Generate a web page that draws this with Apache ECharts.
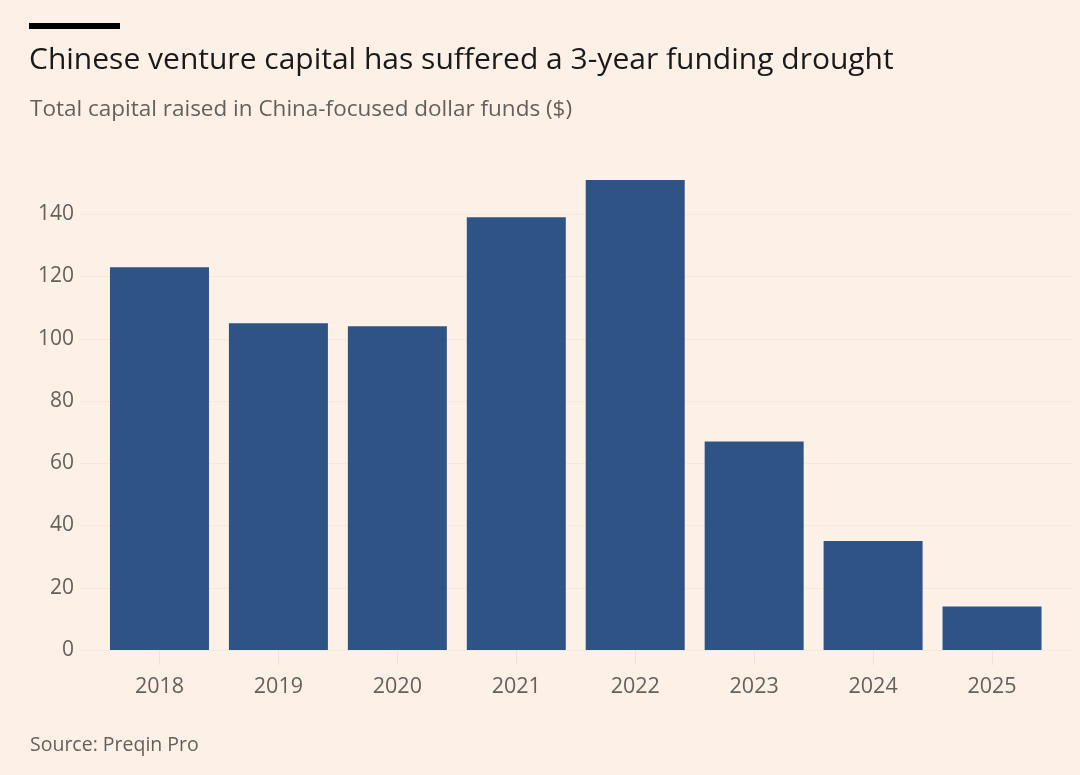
<!DOCTYPE html>
<html>
<head>
<meta charset="utf-8">
<script src="https://cdn.jsdelivr.net/npm/echarts@6/dist/echarts.min.js"></script>
<style>
	html, body { margin: 0; padding: 0; background: #fdf1e7; }
	#chart { width: 1080px; height: 775px; }
</style>
</head>
<body>
<div id="chart"></div>
<script>
	// data
	var years = ['2018', '2019', '2020', '2021', '2022', '2023', '2024', '2025'];
	var capital = [123, 105, 104, 139, 151, 67, 35, 14];
	var yTicks = [0, 20, 40, 60, 80, 100, 120, 140];

	var font = 'Open Sans';
	var grey = '#66605c';

	var myChart = echarts.init(document.getElementById('chart'));

	var option = {
		backgroundColor: '#fdf1e7',
		graphic: [{
			type: 'rect',
			left: 29, top: 23,
			shape: { width: 91, height: 6 },
			style: { fill: '#000000' }
		}],
		title: [{
			text: 'Chinese venture capital has suffered a 3-year funding drought',
			left: 29, top: 45, padding: 0,
			textStyle: { fontFamily: font, fontSize: 30, fontWeight: 'normal', color: '#1a1a1a' }
		}, {
			text: 'Total capital raised in China-focused dollar funds ($)',
			left: 30, top: 98, padding: 0,
			textStyle: { fontFamily: font, fontSize: 22.5, fontWeight: 'normal', color: grey }
		}, {
			text: 'Source: Preqin Pro',
			left: 30, top: 735, padding: 0,
			textStyle: { fontFamily: font, fontSize: 19.5, fontWeight: 'normal', color: grey }
		}],
		grid: [
			// grid 0: gridlines and y labels, a bit wider than the bars
			{ left: 80, right: 8, top: 152, bottom: 125 },
			// grid 1: the bars
			{ left: 100, right: 28.5, top: 152, bottom: 125 }
		],
		xAxis: [{
			gridIndex: 0, type: 'value', min: 0, max: 1, show: false
		}, {
			gridIndex: 1,
			type: 'category',
			data: years,
			axisLine: { show: false },
			axisTick: { show: true, alignWithLabel: true, length: 15, lineStyle: { color: '#efe1d5' } },
			axisLabel: { fontFamily: font, fontSize: 21.5, color: grey, margin: 26 }
		}],
		yAxis: [{
			gridIndex: 0,
			type: 'value',
			min: 0, max: 160, interval: 20,
			axisLine: { show: false },
			axisTick: { show: false },
			axisLabel: {
				fontFamily: font, fontSize: 21, color: grey, margin: 6,
				showMaxLabel: false,
				formatter: function(v) {
					return yTicks.indexOf(v) > -1 ? String(v) : '';
				}
			},
			splitLine: { show: true, showMaxLine: false, lineStyle: { color: '#f5e8dd', width: 1 } }
		}, {
			gridIndex: 1,
			type: 'value',
			min: 0, max: 160, interval: 20,
			show: false,
			splitLine: { show: false }
		}],
		series: [{
			name: 'capital',
			type: 'bar',
			xAxisIndex: 1,
			yAxisIndex: 1,
			data: capital,
			barWidth: 99,
			itemStyle: { color: '#2e5385' },
			animation: false
		}]
	};

	myChart.setOption(option, true);
</script>
</body>
</html>
